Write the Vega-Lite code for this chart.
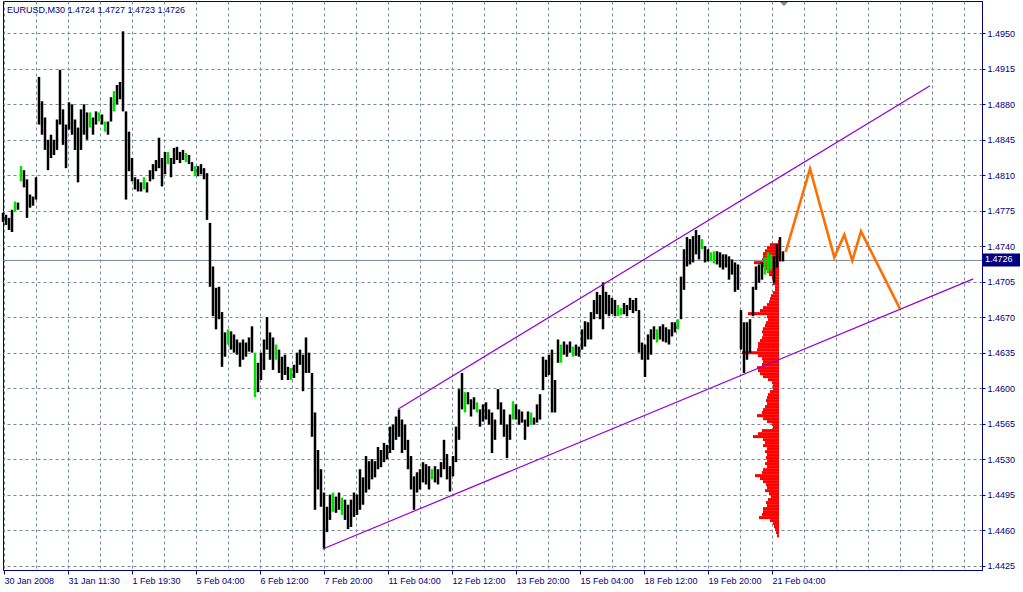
{
  "$schema": "https://vega.github.io/schema/vega-lite/v6.json",
  "width": 979,
  "height": 569,
  "autosize": {"type": "none"},
  "padding": {"left": 3, "top": 1, "right": 41, "bottom": 22},
  "background": "#ffffff",
  "config": {
    "view": {"stroke": "#000080", "strokeWidth": 1},
    "axis": {"title": null, "labelFont": "Liberation Sans", "labelFontSize": 9, "labelColor": "#000080", "domainColor": "#000080", "tickColor": "#000080", "gridColor": "#778899", "gridDash": [3, 3], "gridWidth": 1, "gridOpacity": 1, "labelOverlap": false, "labelSeparation": 0}
  },
  "resolve": {"scale": {"x": "independent"}},
  "layer": [
    {
      "data": {"values": [
        {"p":1.47445,"v":1},{"p":1.47415,"v":9},{"p":1.47386,"v":12},{"p":1.47356,"v":14},{"p":1.47327,"v":16},{"p":1.47297,"v":16},{"p":1.47267,"v":17},{"p":1.47238,"v":25},{"p":1.47208,"v":16},{"p":1.47179,"v":14},
        {"p":1.47149,"v":12},{"p":1.4712,"v":10},{"p":1.4709,"v":7},{"p":1.4706,"v":6},{"p":1.47031,"v":6},{"p":1.47001,"v":4},{"p":1.46972,"v":4},{"p":1.46942,"v":6},{"p":1.46912,"v":8},{"p":1.46883,"v":9},
        {"p":1.46853,"v":10},{"p":1.46824,"v":12},{"p":1.46794,"v":16},{"p":1.46765,"v":19},{"p":1.46735,"v":31},{"p":1.46705,"v":12},{"p":1.46676,"v":11},{"p":1.46646,"v":13},{"p":1.46617,"v":14},{"p":1.46587,"v":16},
        {"p":1.46557,"v":17},{"p":1.46528,"v":16},{"p":1.46498,"v":17},{"p":1.46469,"v":19},{"p":1.46439,"v":21},{"p":1.4641,"v":21},{"p":1.4638,"v":22},{"p":1.4635,"v":37},{"p":1.46321,"v":21},{"p":1.46291,"v":17},
        {"p":1.46262,"v":16},{"p":1.46232,"v":17},{"p":1.46202,"v":22},{"p":1.46173,"v":21},{"p":1.46143,"v":19},{"p":1.46114,"v":16},{"p":1.46084,"v":11},{"p":1.46054,"v":7},{"p":1.46025,"v":6},{"p":1.45995,"v":6},
        {"p":1.45966,"v":9},{"p":1.45936,"v":11},{"p":1.45907,"v":12},{"p":1.45877,"v":13},{"p":1.45847,"v":12},{"p":1.45818,"v":14},{"p":1.45788,"v":16},{"p":1.45759,"v":17},{"p":1.45729,"v":22},{"p":1.45699,"v":16},
        {"p":1.4567,"v":12},{"p":1.4564,"v":7},{"p":1.45611,"v":6},{"p":1.45581,"v":17},{"p":1.45551,"v":21},{"p":1.45522,"v":26},{"p":1.45492,"v":16},{"p":1.45463,"v":14},{"p":1.45433,"v":16},{"p":1.45404,"v":12},
        {"p":1.45374,"v":14},{"p":1.45344,"v":12},{"p":1.45315,"v":13},{"p":1.45285,"v":12},{"p":1.45256,"v":14},{"p":1.45226,"v":12},{"p":1.45196,"v":16},{"p":1.45167,"v":17},{"p":1.45137,"v":24},{"p":1.45108,"v":19},
        {"p":1.45078,"v":16},{"p":1.45048,"v":13},{"p":1.45019,"v":12},{"p":1.44989,"v":14},{"p":1.4496,"v":10},{"p":1.4493,"v":8},{"p":1.44901,"v":11},{"p":1.44871,"v":13},{"p":1.44841,"v":12},{"p":1.44812,"v":16},
        {"p":1.44782,"v":16},{"p":1.44753,"v":17},{"p":1.44723,"v":20},{"p":1.44693,"v":9},{"p":1.44664,"v":6},{"p":1.44634,"v":5},{"p":1.44605,"v":4},{"p":1.44575,"v":3},{"p":1.44545,"v":2}
      ]},
      "mark": {"type": "rule", "color": "#ff0000", "strokeWidth": 3},
      "encoding": {
        "x": {"field": "v", "type": "quantitative", "scale": {"domain": [776, -203], "nice": false, "zero": false}, "axis": null},
        "x2": {"datum": 0},
        "y": {"field": "p", "type": "quantitative", "scale": {"domain": [1.44206, 1.49819], "nice": false, "zero": false},
          "axis": {"orient": "right", "grid": true, "tickCount": 100, "values": [1.4425,1.446,1.4495,1.453,1.4565,1.46,1.4635,1.467,1.4705,1.474,1.4775,1.481,1.4845,1.488,1.4915,1.495], "format": ".4f", "tickSize": 3, "labelPadding": 2, "labelBaseline": "middle", "labelOverlap": false, "labelSeparation": 0, "labelBound": false, "labelFlush": false}}
      }
    },
    {
      "layer": [
        {
          "data": {"values": [{"close": 1.4726}]},
          "mark": {"type": "rule", "color": "#778899", "strokeWidth": 1},
          "encoding": {
            "y": {"field": "close", "type": "quantitative"}
          }
        },
        {
          "data": {"values": [
            {"t":0,"h":1.4773,"l":1.4764},{"t":3,"h":1.4771,"l":1.4761},{"t":6,"h":1.4768,"l":1.4756},{"t":9,"h":1.4776,"l":1.4754},{"t":12,"h":1.4784,"l":1.4774,"u":1},{"t":15,"h":1.4783,"l":1.4776},{"t":18,"h":1.4819,"l":1.4804,"u":1},{"t":21,"h":1.4815,"l":1.4798},{"t":24,"h":1.4806,"l":1.4768},{"t":27,"h":1.4791,"l":1.4778},
            {"t":30,"h":1.4789,"l":1.478},{"t":33,"h":1.4808,"l":1.4786},{"t":36,"h":1.4907,"l":1.486},{"t":39,"h":1.4883,"l":1.485},{"t":42,"h":1.4867,"l":1.4835},{"t":45,"h":1.4845,"l":1.4815},{"t":48,"h":1.485,"l":1.4827},{"t":51,"h":1.4845,"l":1.483},{"t":54,"h":1.4865,"l":1.4835},{"t":57,"h":1.4914,"l":1.486},
            {"t":60,"h":1.4875,"l":1.484},{"t":63,"h":1.486,"l":1.4817},{"t":66,"h":1.4882,"l":1.4855},{"t":69,"h":1.488,"l":1.485},{"t":72,"h":1.4865,"l":1.4835},{"t":75,"h":1.4857,"l":1.4803},{"t":78,"h":1.4875,"l":1.4835},{"t":81,"h":1.488,"l":1.485},{"t":84,"h":1.4872,"l":1.4845},{"t":87,"h":1.4872,"l":1.4857,"u":1},
            {"t":90,"h":1.4867,"l":1.485},{"t":93,"h":1.4873,"l":1.486},{"t":96,"h":1.4872,"l":1.4863,"u":1},{"t":99,"h":1.487,"l":1.486},{"t":102,"h":1.4863,"l":1.4853,"u":1},{"t":105,"h":1.4863,"l":1.485},{"t":108,"h":1.4887,"l":1.4863},{"t":111,"h":1.4893,"l":1.4873,"u":1},{"t":114,"h":1.4899,"l":1.488},{"t":117,"h":1.4902,"l":1.4885},
            {"t":120,"h":1.4952,"l":1.4873},{"t":123,"h":1.4873,"l":1.4786},{"t":126,"h":1.4853,"l":1.4814},{"t":129,"h":1.4827,"l":1.4804},{"t":132,"h":1.4808,"l":1.4796},{"t":135,"h":1.4806,"l":1.4794},{"t":138,"h":1.4803,"l":1.4794},{"t":141,"h":1.4808,"l":1.4796,"u":1},{"t":144,"h":1.4803,"l":1.4793},{"t":147,"h":1.4815,"l":1.4804},
            {"t":150,"h":1.4821,"l":1.4806},{"t":153,"h":1.4825,"l":1.4814},{"t":156,"h":1.4847,"l":1.4817},{"t":159,"h":1.4827,"l":1.4799},{"t":162,"h":1.4833,"l":1.4811},{"t":165,"h":1.4833,"l":1.4821,"u":1},{"t":168,"h":1.4827,"l":1.4808},{"t":171,"h":1.4837,"l":1.4821},{"t":174,"h":1.4838,"l":1.4825},{"t":177,"h":1.4833,"l":1.4822},
            {"t":180,"h":1.4835,"l":1.4825},{"t":183,"h":1.4832,"l":1.4823,"u":1},{"t":186,"h":1.483,"l":1.4821},{"t":189,"h":1.4823,"l":1.4814},{"t":192,"h":1.4819,"l":1.4809,"u":1},{"t":195,"h":1.4819,"l":1.4809},{"t":198,"h":1.4821,"l":1.4811},{"t":201,"h":1.4817,"l":1.4806},{"t":204,"h":1.4812,"l":1.4766},{"t":207,"h":1.4763,"l":1.47},
            {"t":210,"h":1.472,"l":1.4671},{"t":213,"h":1.4699,"l":1.4658},{"t":216,"h":1.47,"l":1.4668},{"t":219,"h":1.4675,"l":1.4621},{"t":222,"h":1.4655,"l":1.4631},{"t":225,"h":1.4658,"l":1.4643,"u":1},{"t":228,"h":1.4656,"l":1.4638},{"t":231,"h":1.4653,"l":1.4635},{"t":234,"h":1.4648,"l":1.4633},{"t":237,"h":1.4645,"l":1.4621},
            {"t":240,"h":1.4648,"l":1.4628},{"t":243,"h":1.4645,"l":1.4631},{"t":246,"h":1.465,"l":1.4636},{"t":249,"h":1.4661,"l":1.4635},{"t":252,"h":1.4635,"l":1.4591,"u":1},{"t":255,"h":1.4625,"l":1.4596},{"t":258,"h":1.4635,"l":1.4608},{"t":261,"h":1.4648,"l":1.4618},{"t":264,"h":1.467,"l":1.4638},{"t":267,"h":1.4655,"l":1.4628},
            {"t":270,"h":1.465,"l":1.4618},{"t":273,"h":1.4643,"l":1.4628,"u":1},{"t":276,"h":1.4638,"l":1.4615},{"t":279,"h":1.4631,"l":1.4608},{"t":282,"h":1.4633,"l":1.4613},{"t":285,"h":1.4621,"l":1.4608},{"t":288,"h":1.462,"l":1.4608,"u":1},{"t":291,"h":1.4623,"l":1.461},{"t":294,"h":1.4635,"l":1.4615},{"t":297,"h":1.4638,"l":1.4623},
            {"t":300,"h":1.4633,"l":1.4597},{"t":303,"h":1.465,"l":1.4615},{"t":306,"h":1.4635,"l":1.4615},{"t":309,"h":1.4615,"l":1.4552},{"t":312,"h":1.4576,"l":1.448},{"t":315,"h":1.4539,"l":1.45},{"t":318,"h":1.452,"l":1.4483},{"t":321,"h":1.4497,"l":1.4441},{"t":324,"h":1.4483,"l":1.4458},{"t":327,"h":1.4495,"l":1.447},
            {"t":330,"h":1.4497,"l":1.4478,"u":1},{"t":333,"h":1.4493,"l":1.4477},{"t":336,"h":1.4497,"l":1.448},{"t":339,"h":1.4492,"l":1.4475,"u":1},{"t":342,"h":1.449,"l":1.447},{"t":345,"h":1.4485,"l":1.4461},{"t":348,"h":1.449,"l":1.4463},{"t":351,"h":1.4497,"l":1.4473},{"t":354,"h":1.4495,"l":1.4475},{"t":357,"h":1.452,"l":1.448},
            {"t":360,"h":1.4512,"l":1.4485},{"t":363,"h":1.4533,"l":1.4497},{"t":366,"h":1.4528,"l":1.45},{"t":369,"h":1.453,"l":1.451},{"t":372,"h":1.4528,"l":1.4512},{"t":375,"h":1.4542,"l":1.452},{"t":378,"h":1.4539,"l":1.4522},{"t":381,"h":1.4546,"l":1.4527},{"t":384,"h":1.4544,"l":1.453},{"t":387,"h":1.4562,"l":1.4536},
            {"t":390,"h":1.4564,"l":1.4539},{"t":393,"h":1.4572,"l":1.4549},{"t":396,"h":1.4579,"l":1.4552},{"t":399,"h":1.4569,"l":1.4536},{"t":402,"h":1.4564,"l":1.4539},{"t":405,"h":1.4549,"l":1.452},{"t":408,"h":1.4533,"l":1.45},{"t":411,"h":1.4513,"l":1.448},{"t":414,"h":1.4517,"l":1.4497},{"t":417,"h":1.452,"l":1.45},
            {"t":420,"h":1.4527,"l":1.4507},{"t":423,"h":1.4525,"l":1.4505},{"t":426,"h":1.4523,"l":1.45},{"t":429,"h":1.452,"l":1.451,"u":1},{"t":432,"h":1.4523,"l":1.4507},{"t":435,"h":1.452,"l":1.4505},{"t":438,"h":1.4527,"l":1.4512},{"t":441,"h":1.4549,"l":1.452},{"t":444,"h":1.4535,"l":1.451},{"t":447,"h":1.4523,"l":1.4498},
            {"t":450,"h":1.4533,"l":1.4513},{"t":453,"h":1.4562,"l":1.4527},{"t":456,"h":1.4599,"l":1.4549},{"t":459,"h":1.4615,"l":1.4579},{"t":462,"h":1.4596,"l":1.4576,"u":1},{"t":465,"h":1.4596,"l":1.4584},{"t":468,"h":1.4589,"l":1.4572},{"t":471,"h":1.4591,"l":1.4579},{"t":474,"h":1.4586,"l":1.4576,"u":1},{"t":477,"h":1.4579,"l":1.4562},
            {"t":480,"h":1.4584,"l":1.4567},{"t":483,"h":1.4586,"l":1.4569},{"t":486,"h":1.4579,"l":1.4564},{"t":489,"h":1.4576,"l":1.4536},{"t":492,"h":1.4569,"l":1.4549},{"t":495,"h":1.4599,"l":1.4579},{"t":498,"h":1.4586,"l":1.4564},{"t":501,"h":1.4579,"l":1.4552},{"t":504,"h":1.4564,"l":1.4531},{"t":507,"h":1.4574,"l":1.4549},
            {"t":510,"h":1.4587,"l":1.4569,"u":1},{"t":513,"h":1.4584,"l":1.4569},{"t":516,"h":1.4579,"l":1.4564},{"t":519,"h":1.4577,"l":1.4566},{"t":522,"h":1.4569,"l":1.4549},{"t":525,"h":1.4577,"l":1.4562},{"t":528,"h":1.4576,"l":1.4564,"u":1},{"t":531,"h":1.4571,"l":1.4564},{"t":534,"h":1.4584,"l":1.4566},{"t":537,"h":1.4594,"l":1.4569},
            {"t":540,"h":1.4631,"l":1.4598},{"t":543,"h":1.4628,"l":1.4611},{"t":546,"h":1.4633,"l":1.4613},{"t":549,"h":1.4638,"l":1.4576},{"t":552,"h":1.4608,"l":1.4576},{"t":555,"h":1.4648,"l":1.4625},{"t":558,"h":1.4643,"l":1.4625,"u":1},{"t":561,"h":1.4646,"l":1.4633},{"t":564,"h":1.4643,"l":1.4631},{"t":567,"h":1.4646,"l":1.4635},
            {"t":570,"h":1.4641,"l":1.4631,"u":1},{"t":573,"h":1.4643,"l":1.4632},{"t":576,"h":1.4641,"l":1.4631},{"t":579,"h":1.4658,"l":1.4638},{"t":582,"h":1.4666,"l":1.4641},{"t":585,"h":1.4665,"l":1.4648},{"t":588,"h":1.4675,"l":1.4648},{"t":591,"h":1.4687,"l":1.4668},{"t":594,"h":1.4695,"l":1.4673},{"t":597,"h":1.4692,"l":1.4668},
            {"t":600,"h":1.4704,"l":1.4658},{"t":603,"h":1.4695,"l":1.4673},{"t":606,"h":1.4692,"l":1.4671},{"t":609,"h":1.4689,"l":1.4673},{"t":612,"h":1.4687,"l":1.4671},{"t":615,"h":1.4682,"l":1.4671,"u":1},{"t":618,"h":1.4679,"l":1.4672,"u":1},{"t":621,"h":1.4684,"l":1.4673},{"t":624,"h":1.4682,"l":1.4671},{"t":627,"h":1.4689,"l":1.4677},
            {"t":630,"h":1.4687,"l":1.4674},{"t":633,"h":1.4689,"l":1.4676},{"t":636,"h":1.4677,"l":1.4635},{"t":639,"h":1.4645,"l":1.4628},{"t":642,"h":1.4643,"l":1.4611},{"t":645,"h":1.4653,"l":1.4628},{"t":648,"h":1.4658,"l":1.4633},{"t":651,"h":1.4661,"l":1.4648},{"t":654,"h":1.4658,"l":1.4645,"u":1},{"t":657,"h":1.4661,"l":1.4648},
            {"t":660,"h":1.4663,"l":1.4646},{"t":663,"h":1.466,"l":1.4645},{"t":666,"h":1.4658,"l":1.4643},{"t":669,"h":1.4665,"l":1.4651},{"t":672,"h":1.4665,"l":1.4655},{"t":675,"h":1.4668,"l":1.4658,"u":1},{"t":678,"h":1.471,"l":1.4668},{"t":681,"h":1.4737,"l":1.4697},{"t":684,"h":1.4749,"l":1.472},{"t":687,"h":1.4747,"l":1.4722},
            {"t":690,"h":1.475,"l":1.4724},{"t":693,"h":1.4756,"l":1.4732},{"t":696,"h":1.4751,"l":1.4727},{"t":699,"h":1.4747,"l":1.4737,"u":1},{"t":702,"h":1.474,"l":1.4724},{"t":705,"h":1.4737,"l":1.4725},{"t":708,"h":1.4734,"l":1.4725,"u":1},{"t":711,"h":1.4735,"l":1.4723,"u":1},{"t":714,"h":1.4735,"l":1.4722},{"t":717,"h":1.4734,"l":1.4719},
            {"t":720,"h":1.4732,"l":1.4717},{"t":723,"h":1.4732,"l":1.4719},{"t":726,"h":1.473,"l":1.4707},{"t":729,"h":1.4727,"l":1.4712},{"t":732,"h":1.4724,"l":1.4695},{"t":735,"h":1.4722,"l":1.4697},{"t":738,"h":1.4677,"l":1.4638},{"t":741,"h":1.4665,"l":1.4615},{"t":744,"h":1.4665,"l":1.4628},{"t":747,"h":1.4668,"l":1.4635},
            {"t":750,"h":1.47,"l":1.4671},{"t":753,"h":1.472,"l":1.4697},{"t":756,"h":1.4722,"l":1.4704},{"t":759,"h":1.4724,"l":1.4707},{"t":762,"h":1.4729,"l":1.4712,"u":1},{"t":765,"h":1.4734,"l":1.4714,"u":1},{"t":768,"h":1.4732,"l":1.4717,"u":1},{"t":771,"h":1.473,"l":1.4704},{"t":774,"h":1.4742,"l":1.4719},{"t":777,"h":1.4749,"l":1.4725},
            {"t":780,"h":1.4735,"l":1.4725}
          ]},
          "mark": {"type": "rule", "strokeWidth": 2.5},
          "encoding": {
            "x": {"field": "t", "type": "quantitative", "scale": {"domain": [0, 979], "nice": false, "zero": false},
              "axis": {"orient": "bottom", "grid": true, "tickCount": 100, "values": [1,33,65,97,129,161,193,225,257,289,321,353,385,417,449,481,513,545,577,609,641,673,705,737,769,801,833,865,897,929,961],
                "labelExpr": "(datum.value % 64 === 1 && datum.value < 800) ? ['30 Jan 2008','31 Jan 11:30','1 Feb 19:30','5 Feb 04:00','6 Feb 12:00','7 Feb 20:00','11 Feb 04:00','12 Feb 12:00','13 Feb 20:00','15 Feb 04:00','18 Feb 12:00','19 Feb 20:00','21 Feb 04:00'][floor(datum.value / 64)] : ''",
                "labelAlign": "left", "labelBaseline": "top", "labelPadding": 2, "tickSize": 4,
                "tickOpacity": {"condition": {"test": "datum.value % 64 === 1 && datum.value < 800", "value": 1}, "value": 0},
                "labelOverlap": false, "labelFlush": false, "labelBound": false}},
            "y": {"field": "h", "type": "quantitative",
              "axis": {"orient": "right", "grid": true, "tickCount": 100, "values": [1.4425,1.446,1.4495,1.453,1.4565,1.46,1.4635,1.467,1.4705,1.474,1.4775,1.481,1.4845,1.488,1.4915,1.495], "format": ".4f", "tickSize": 3, "labelPadding": 2, "labelBaseline": "middle", "labelOverlap": false, "labelSeparation": 0, "labelBound": false, "labelFlush": false}},
            "y2": {"field": "l"},
            "color": {"condition": {"test": "datum.u === 1", "value": "#00e000"}, "value": "#000000"}
          }
        },
        {
          "data": {"values": [
            {"line": "upper", "t": 395.3, "p": 1.45795},
            {"line": "upper", "t": 927, "p": 1.48984},
            {"line": "lower", "t": 320.3, "p": 1.44415},
            {"line": "lower", "t": 970.3, "p": 1.47078}
          ]},
          "mark": {"type": "line", "color": "#9400d3", "strokeWidth": 1.2},
          "encoding": {
            "x": {"field": "t", "type": "quantitative"},
            "y": {"field": "p", "type": "quantitative"},
            "detail": {"field": "line"}
          }
        },
        {
          "data": {"values": [
            {"t": 782.7, "p": 1.47344},
            {"t": 807, "p": 1.48165},
            {"t": 831.3, "p": 1.47291},
            {"t": 841.3, "p": 1.47514},
            {"t": 849.3, "p": 1.47258},
            {"t": 858, "p": 1.47547},
            {"t": 897, "p": 1.46782}
          ]},
          "mark": {"type": "line", "color": "#ff6e00", "strokeWidth": 2.6},
          "encoding": {
            "x": {"field": "t", "type": "quantitative"},
            "y": {"field": "p", "type": "quantitative"}
          }
        },
        {
          "data": {"values": [{"close": 1.4726, "label": "1.4726"}]},
          "layer": [
            {
              "mark": {"type": "rect", "color": "#000080", "yOffset": -7, "y2Offset": 6},
              "encoding": {
                "x": {"datum": 980},
                "x2": {"datum": 1017},
                "y": {"field": "close", "type": "quantitative"},
                "y2": {"field": "close"}
              }
            },
            {
              "mark": {"type": "text", "color": "#ffffff", "align": "left", "baseline": "middle", "font": "Liberation Sans", "fontSize": 9, "dy": -1},
              "encoding": {
                "x": {"datum": 982},
                "y": {"field": "close", "type": "quantitative"},
                "text": {"field": "label"}
              }
            }
          ]
        },
        {
          "data": {"values": [{"symbol": "EURUSD,M30", "quote": "1.4724 1.4727 1.4723 1.4726"}]},
          "mark": {"type": "text", "color": "#000080", "align": "left", "baseline": "middle", "font": "Liberation Sans", "fontSize": 9},
          "encoding": {
            "x": {"datum": 4},
            "y": {"datum": 1.49733},
            "text": {"value": "EURUSD,M30  1.4724 1.4727 1.4723 1.4726"}
          }
        },
        {
          "data": {"values": [{"marker": "shift"}]},
          "mark": {"type": "point", "shape": "M-1,-0.5L1,-0.5L0,0.5Z", "filled": true, "color": "#778899", "size": 64, "opacity": 1},
          "encoding": {
            "x": {"datum": 781},
            "y": {"datum": 1.4979}
          }
        }
      ]
    }
  ]
}
